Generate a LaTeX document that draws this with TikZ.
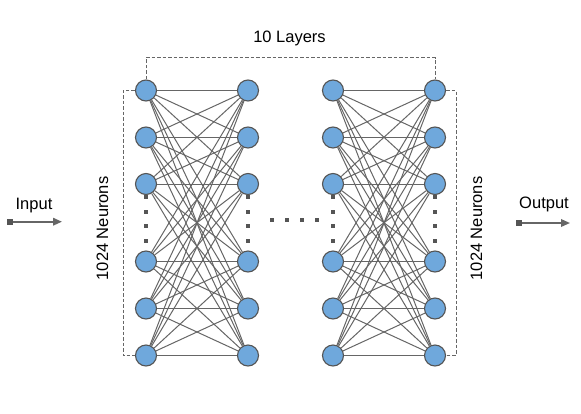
\documentclass[tikz,border=0pt]{standalone}
\usepackage{fontspec}
\setmainfont{Liberation Sans}
\usetikzlibrary{arrows.meta}
\definecolor{nodeblue}{HTML}{6FA8DC}
\definecolor{nodeedge}{HTML}{555555}
\definecolor{edgegray}{HTML}{666666}
\definecolor{dotgray}{HTML}{555555}
\begin{document}
\begin{tikzpicture}[x=1pt,y=-1pt,
  neuron/.style={circle,fill=nodeblue,draw=nodeedge,line width=1.1pt,minimum size=21pt,inner sep=0pt},
  link/.style={draw=edgegray,line width=1pt},
  bracket/.style={draw=edgegray,dash pattern=on 3.5pt off 2pt,line width=0.9pt},
  dotmark/.style={rectangle,fill=dotgray,minimum size=4pt,inner sep=0pt},
  sqmark/.style={rectangle,fill=dotgray,minimum width=6.5pt,minimum height=6pt,inner sep=0pt},
  lbl/.style={font=\fontsize{16.5}{19}\selectfont,inner sep=0pt,text=black},
  ioarrow/.style={draw=edgegray,line width=1.8pt,-{Triangle[length=9pt,width=7.5pt]}}
]
\useasboundingbox (0,0) rectangle (581,413);
\fill[white] (0,0) rectangle (581,413);

% neurons (links stop at their borders)
\foreach \c/\x in {1/146,2/248,3/333,4/435}
  \foreach \r/\y in {1/90.5,2/137.5,3/184,4/261.5,5/308.5,6/355.5}
    \node[neuron] (n\c\r) at (\x,\y) {};
\foreach \i in {1,...,6}
  \foreach \j in {1,...,6} {
    \draw[link] (n1\i) -- (n2\j);
    \draw[link] (n3\i) -- (n4\j);
  }

% vertical dots
\foreach \c/\x in {1/146,2/248,3/333,4/435}
  \foreach \k/\y in {1/197,2/212,3/226,4/240.5}
    \node[dotmark] (v\c\k) at (\x,\y) {};
% horizontal dots
\foreach \k/\x in {1/272,2/287,3/302,4/317}
  \node[dotmark] (h\k) at (\x,220) {};

% dashed brackets
\coordinate (toprail) at (290,57.5);
\coordinate (leftrail) at (123,220);
\coordinate (rightrail) at (456,220);
\draw[bracket] (n11.north) |- (toprail) -| (n41.north);
\draw[bracket] (n11.west) -| (leftrail) |- (n16.west);
\draw[bracket] (n41.east) -| (rightrail) |- (n46.east);

% labels
\node[lbl,anchor=base] (layers) at (289.5,42.3) {10 Layers};
\node[lbl,anchor=base,rotate=90] (neuL) at (108,228.5) {1024 Neurons};
\node[lbl,anchor=base,rotate=90] (neuR) at (482,228.5) {1024 Neurons};
\node[lbl,anchor=base] (inlbl) at (34,209) {Input};
\node[lbl,anchor=base] (outlbl) at (544,208.5) {Output};

% io arrows
\node[sqmark] (inS) at (10,221.7) {};
\coordinate (inT) at (62,221.7);
\draw[ioarrow] (inS) -- (inT);
\node[sqmark] (outS) at (519,223) {};
\coordinate (outT) at (570,223);
\draw[ioarrow] (outS) -- (outT);
\end{tikzpicture}
\end{document}
